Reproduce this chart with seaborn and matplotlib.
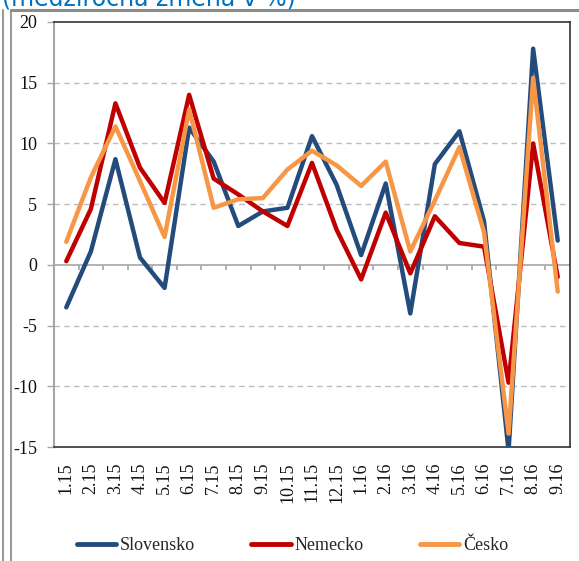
import matplotlib
matplotlib.use("Agg")
import matplotlib.pyplot as plt
import matplotlib.lines as mlines
import numpy as np
import pandas as pd
import seaborn as sns

months = ["1.15", "2.15", "3.15", "4.15", "5.15", "6.15", "7.15", "8.15",
          "9.15", "10.15", "11.15", "12.15", "1.16", "2.16", "3.16", "4.16",
          "5.16", "6.16", "7.16", "8.16", "9.16"]
slovensko = [-3.5, 1.1, 8.7, 0.6, -1.9, 11.3, 8.5, 3.2, 4.4, 4.7, 10.6, 6.6,
             0.8, 6.7, -4.0, 8.3, 11.0, 3.6, -15.3, 17.8, 2.0]
nemecko = [0.3, 4.6, 13.3, 8.0, 5.1, 14.0, 7.1, 5.8, 4.4, 3.2, 8.4, 2.9,
           -1.2, 4.3, -0.7, 4.0, 1.8, 1.5, -9.7, 10.0, -1.0]
cesko = [1.9, 7.2, 11.4, 6.9, 2.3, 12.8, 4.7, 5.4, 5.5, 7.85, 9.4, 8.2,
         6.5, 8.5, 1.1, 5.3, 9.7, 2.7, -13.9, 15.4, -2.2]

series = ["Slovensko", "Nemecko", "Česko"]
palette = {"Slovensko": "#234C7D", "Nemecko": "#C00000", "Česko": "#F79646"}

df = pd.DataFrame({
    "pos": list(range(len(months))) * 3,
    "value": slovensko + nemecko + cesko,
    "country": np.repeat(series, len(months)),
})

sns.set_theme(style="white", rc={"font.family": "Liberation Serif"})
plt.rcParams["font.family"] = ["Liberation Serif", "DejaVu Serif"]

W, H = 579, 561
fig = plt.figure(figsize=(W / 100, H / 100), dpi=100)
fig.patch.set_facecolor("white")


def px(x0, y0, x1, y1):
    return [x0 / W, 1 - y1 / H, (x1 - x0) / W, (y1 - y0) / H]


ax = fig.add_axes(px(54, 22, 570, 447))

for y in [-10, -5, 5, 10, 15]:
    ax.axhline(y, color="#BDBDBD", lw=1, ls=(0, (4, 3)), zorder=0)
ax.axhline(0, color="#A6A6A6", lw=1.2, zorder=1)
# category boundary ticks on the zero line
ax.vlines(np.arange(len(months) - 1) + 0.5, -0.42, 0, color="#A6A6A6",
          lw=1.2, zorder=1)

sns.lineplot(data=df, x="pos", y="value", hue="country", hue_order=series,
             palette=palette, linewidth=3.2, ax=ax, legend=True, zorder=3)

handles, labels = ax.get_legend_handles_labels()
ax.legend_.remove()

ax.set_xlim(-0.5, len(months) - 0.5)
ax.set_ylim(-15, 20)
ax.set_yticks(range(-15, 21, 5))
ax.set_yticklabels([str(v) for v in range(-15, 21, 5)])
ax.set_xticks(range(len(months)))
ax.set_xticklabels(months, rotation=90)
ax.set_xlabel("")
ax.set_ylabel("")
ax.tick_params(axis="x", length=0, pad=11, labelsize=13, colors="#111111")
ax.tick_params(axis="y", length=5, width=1, color="#A6A6A6", pad=7,
               labelsize=13, labelcolor="#111111", left=True)
for side in ["top", "right", "bottom"]:
    ax.spines[side].set_color("#333333")
    ax.spines[side].set_linewidth(1.2)
ax.spines["left"].set_color("#A6A6A6")
ax.spines["left"].set_linewidth(1.5)

fig.legend(handles, labels, loc="center", bbox_to_anchor=(0.505, 0.027),
           ncol=3, frameon=False, fontsize=13, handlelength=2.2,
           handletextpad=0.2, columnspacing=3.1)
for h in fig.legends[0].get_lines():
    h.set_linewidth(3.5)

# outer frame of the slide
frame = dict(color="#9A9A9A", lw=1.5, transform=fig.transFigure)
fig.add_artist(mlines.Line2D([3 / W, 3 / W], [0, 1 - 10 / H], **frame))
fig.add_artist(mlines.Line2D([11 / W, 11 / W], [0, 1 - 10 / H], **frame))
fig.add_artist(mlines.Line2D([11 / W, 1], [1 - 10 / H, 1 - 10 / H],
                             color="#8C8C8C", lw=2.2,
                             transform=fig.transFigure))

fig.text(2 / W, 1 - 7 / H, "(medziročná zmena v %)", color="#0070C0",
         fontsize=17, family=["DejaVu Sans"], va="baseline", ha="left")

fig.savefig("out.png", dpi=100, facecolor="white")
